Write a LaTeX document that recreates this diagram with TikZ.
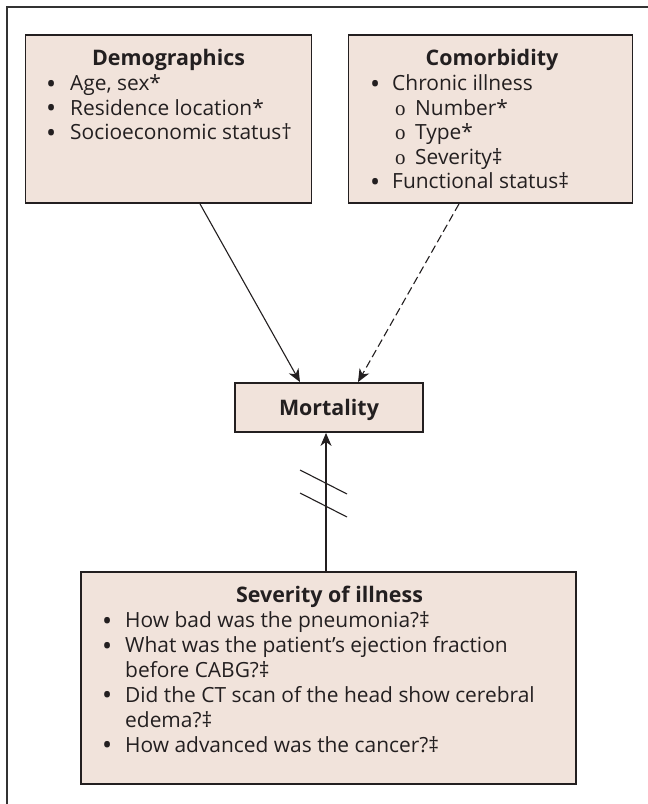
\documentclass[tikz,border=0pt]{standalone}
\usepackage{fontspec}
\setmainfont{Open Sans}
\newfontfamily\subbul{Liberation Serif}
\usetikzlibrary{arrows.meta,calc}
\definecolor{boxfill}{HTML}{F1E3DB}
\definecolor{boxline}{HTML}{231F20}
\newcommand{\bul}{\raisebox{-2.5bp}{\fontsize{27}{24}\selectfont •}}
\begin{document}
\begin{tikzpicture}[x=1bp,y=-1bp,
  box/.style={draw=boxline, line width=1.8bp, fill=boxfill, inner sep=0pt},
  ttl/.style={font=\bfseries\fontsize{21.5}{24.6}\selectfont, inner sep=0pt, anchor=base, text=boxline},
  lst/.style={font=\fontsize{21}{24.6}\selectfont, inner sep=0pt, anchor=base west, text=boxline},
  lstb/.style={font=\fontsize{21}{25}\selectfont, inner sep=0pt, anchor=base west, text=boxline},
  conn/.style={line width=1.1bp, draw=boxline, -{Stealth[length=13bp,width=11bp,inset=4bp]}},
  brk/.style={line width=1.1bp, draw=boxline}]
\useasboundingbox (0,0) rectangle (648,804);
\fill[white] (0,0) rectangle (648,804);
\draw[line width=1.4bp, draw=black!80] (7,804) -- (7,7) -- (648,7);

\node[box, minimum width=286bp, minimum height=168bp] (demo) at (168.5,119) {};
\node[box, minimum width=284bp, minimum height=168bp] (comorb) at (490.5,119) {};
\node[box, minimum width=188bp, minimum height=49bp] (mort) at (329,407.5) {};
\node[box, minimum width=495bp, minimum height=212bp] (sev) at (328.5,678) {};

\node[ttl] (demottl) at (168.5,66) {Demographics};
\node[ttl] (comttl) at (492,66) {Comorbidity};
\node[ttl] (morttl) at (329,415) {Mortality};
\node[ttl] (sevttl) at (329.5,602.7) {Severity of illness};

\node[lst] (demolist) at (46,90.7) {\begin{tabular}[t]{@{}p{24bp}@{}l@{}}
\bul & Age, sex*\\
\bul & Residence location*\\
\bul & Socioeconomic status†
\end{tabular}};

\node[lst] (comlist) at (370,90.7) {\begin{tabular}[t]{@{}p{22bp}@{}l@{}}
\bul & Chronic illness\\
 & \hspace{3bp}\makebox[20bp][l]{\subbul o}Number*\\
 & \hspace{3bp}\makebox[20bp][l]{\subbul o}Type*\\
 & \hspace{3bp}\makebox[20bp][l]{\subbul o}Severity‡\\
\bul & Functional status‡
\end{tabular}};

\node[lstb] (sevlist) at (102,627.7) {\begin{tabular}[t]{@{}p{23bp}@{}l@{}}
\bul & How bad was the pneumonia?‡\\
\bul & What was the patient’s ejection fraction\\
 & before CABG?‡\\
\bul & Did the CT scan of the head show cerebral\\
 & edema?‡\\
\bul & How advanced was the cancer?‡
\end{tabular}};

\draw[conn] ($(demo.south)+(31.5,0)$) -- ($(mort.north)+(-29,0)$);
\draw[conn, dash pattern=on 8bp off 4bp] ($(comorb.south)+(-31.5,0)$) -- ($(mort.north)+(29,0)$);
\draw[conn] ($(sev.north)+(-2.5,0)$) -- ($(mort.south)+(-3,0)$);

\draw[brk] (300,470) -- (347,494);
\draw[brk] (300,493) -- (347,517);
\end{tikzpicture}
\end{document}
